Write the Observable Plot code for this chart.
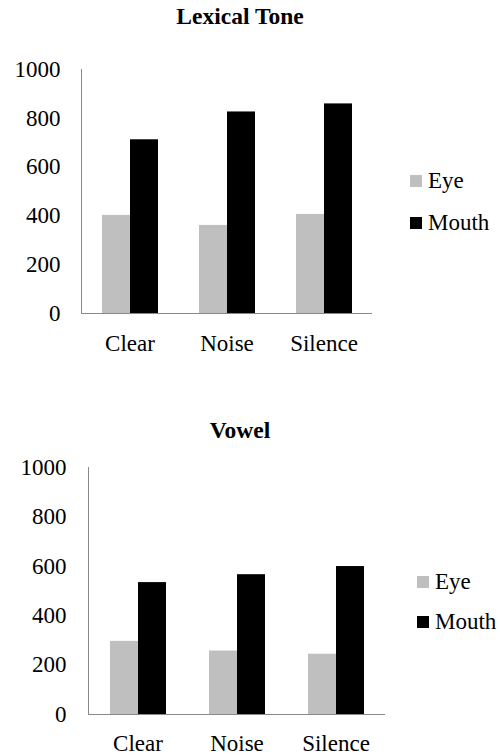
<!DOCTYPE html>
<html><head><meta charset="utf-8">
<script src="https://cdn.jsdelivr.net/npm/d3@7"></script>
<script src="https://cdn.jsdelivr.net/npm/@observablehq/plot@0.6"></script>
</head>
<body style="margin:0;background:#fff;">
<div id="root" style="position:relative;width:500px;height:755px;overflow:hidden;font-family:'Liberation Serif';"></div>
<script>
const categories = ["Clear", "Noise", "Silence"];
const series = ["Eye", "Mouth"];
const seriesColors = ["#bfbfbf", "#000000"];
const yTicks = [0, 200, 400, 600, 800, 1000];
const lexicalEye = [402, 361, 406];
const lexicalMouth = [712, 826, 859];
const vowelEye = [296, 257, 244];
const vowelMouth = [534, 566, 599];

const FONT = "'Liberation Serif'";
const root = document.getElementById("root");

function build(cfg) {
  const data = [];
  categories.forEach((c, i) => {
    data.push({category: c, series: "Eye", value: cfg.eye[i]});
    data.push({category: c, series: "Mouth", value: cfg.mouth[i]});
  });
  const t = document.createElement("div");
  t.setAttribute("style", `position:absolute;left:0;top:${cfg.titleTop}px;width:480px;text-align:center;font-family:${FONT};font-weight:bold;font-size:23.5px;line-height:23px;color:#000;`);
  t.textContent = cfg.title;
  root.appendChild(t);

  const plot = Plot.plot({
    width: 500,
    height: cfg.height,
    marginLeft: cfg.ml,
    marginRight: cfg.mr,
    marginTop: cfg.mt,
    marginBottom: cfg.mb,
    style: {fontFamily: FONT, fontSize: "23px", background: "transparent", overflow: "visible", color: "#898989"},
    facet: {data, x: "category"},
    fx: {domain: categories, padding: 0, label: null, tickSize: 0, tickPadding: cfg.xPad},
    x: {domain: series, paddingInner: 0, paddingOuter: 0.73, axis: null},
    y: {domain: [0, 1000], ticks: yTicks, tickFormat: d => String(d), tickSize: 0, tickPadding: cfg.yPad, label: null, line: true},
    color: {domain: series, range: seriesColors},
    marks: [
      Plot.barY(data, {x: "series", y: "value", fill: "series"}),
      Plot.ruleY([0], {stroke: "#898989", strokeWidth: 1.2})
    ]
  });
  d3.select(plot).selectAll("text")
    .style("font-family", FONT)
    .style("fill", "#000");
  const wrap = document.createElement("div");
  wrap.setAttribute("style", `position:absolute;left:0;top:${cfg.top}px;`);
  wrap.appendChild(plot);
  root.appendChild(wrap);

  const lg = document.createElement("div");
  lg.setAttribute("style", `position:absolute;left:${cfg.legendLeft}px;top:${cfg.legendTop}px;font-family:${FONT};font-size:23px;line-height:22px;color:#000;`);
  series.forEach((s, i) => {
    const it = document.createElement("div");
    it.setAttribute("style", `display:flex;align-items:center;height:22px;margin-top:${i > 0 ? cfg.legendGap : 0}px;`);
    const sw = document.createElement("div");
    sw.setAttribute("style", `width:12px;height:12px;margin-right:6px;background:${seriesColors[i]};`);
    const tx = document.createElement("span");
    tx.textContent = s;
    it.appendChild(sw); it.appendChild(tx);
    lg.appendChild(it);
  });
  root.appendChild(lg);
}

build({title: "Lexical Tone", titleTop: 5, eye: lexicalEye, mouth: lexicalMouth,
  top: 40, height: 318, ml: 81, mr: 128, mt: 29, mb: 45, xPad: 21, yPad: 21,
  legendLeft: 410, legendTop: 170, legendGap: 19.5});
build({title: "Vowel", titleTop: 418.5, eye: vowelEye, mouth: vowelMouth,
  top: 440, height: 315, ml: 88, mr: 115, mt: 27, mb: 41, xPad: 20, yPad: 22,
  legendLeft: 417, legendTop: 571, legendGap: 17.5});
</script>
</body></html>
